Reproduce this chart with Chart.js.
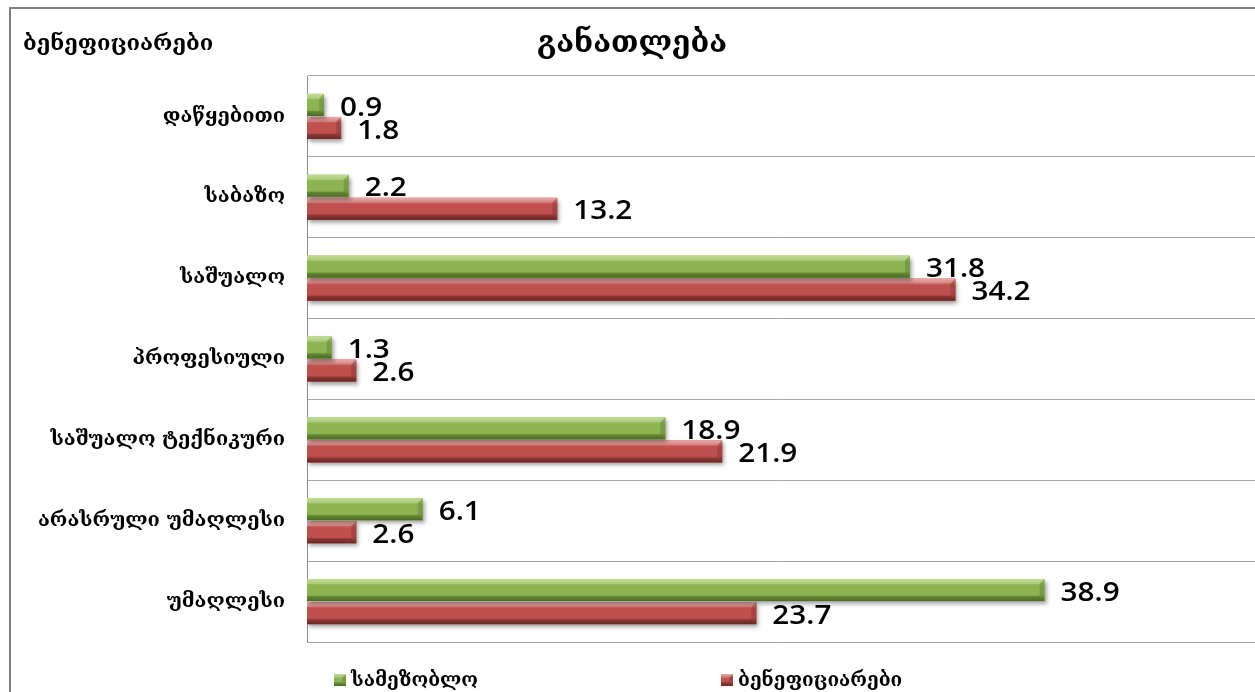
<!DOCTYPE html>
<html><head><meta charset="utf-8">
<script src="https://cdn.jsdelivr.net/npm/chart.js@4.4.0/dist/chart.umd.min.js"></script>
<style>html,body{margin:0;padding:0;background:#fff;overflow:hidden}canvas{display:block}</style>
</head><body>
<canvas id="c" width="1255" height="692"></canvas>
<script>
const categories = ['დაწყებითი', 'საბაზო', 'საშუალო', 'პროფესიული', 'საშუალო ტექნიკური', 'არასრული უმაღლესი', 'უმაღლესი'];
const seriesNames = ['სამეზობლო', 'ბენეფიციარები'];
const neighbourValues = [0.9, 2.2, 31.8, 1.3, 18.9, 6.1, 38.9];
const beneficiaryValues = [1.8, 13.2, 34.2, 2.6, 21.9, 2.6, 23.7];
const chartTitle = 'განათლება';
const cornerLabel = 'ბენეფიციარები';

const GEO = "'DejaVu Serif', 'DejaVu Sans', serif";
const NUM = "'Open Sans', 'Lato', sans-serif";
const palettes = [
  {light: '#b4d67c', mid: '#8cb551', dark: '#5c8227'},
  {light: '#e39592', mid: '#c0504d', dark: '#842e2b'}
];

function shadeRect(ctx, left, top, right, bot, p) {
  const g = ctx.createLinearGradient(0, top, 0, bot);
  g.addColorStop(0, p.light);
  g.addColorStop(0.3, p.mid);
  g.addColorStop(0.7, p.mid);
  g.addColorStop(1, p.dark);
  ctx.fillStyle = g;
  ctx.fillRect(left, top, right - left, bot - top);
  const b = Math.min(5, (bot - top) / 3, (right - left) / 2);
  ctx.fillStyle = 'rgba(255,255,255,0.2)';
  ctx.beginPath(); ctx.moveTo(left, top); ctx.lineTo(right, top); ctx.lineTo(right - b, top + b); ctx.lineTo(left, top + b); ctx.closePath(); ctx.fill();
  ctx.fillStyle = 'rgba(0,0,0,0.18)';
  ctx.beginPath(); ctx.moveTo(left, bot); ctx.lineTo(right, bot); ctx.lineTo(right - b, bot - b); ctx.lineTo(left, bot - b); ctx.closePath(); ctx.fill();
  ctx.fillStyle = 'rgba(0,0,0,0.14)';
  ctx.beginPath(); ctx.moveTo(right, top); ctx.lineTo(right, bot); ctx.lineTo(right - b, bot - b); ctx.lineTo(right - b, top + b); ctx.closePath(); ctx.fill();
}

const framePlugin = {
  id: 'frame',
  beforeDraw(chart) {
    const ctx = chart.ctx;
    ctx.save();
    ctx.fillStyle = '#fff';
    ctx.fillRect(0, 0, chart.width, chart.height);
    ctx.strokeStyle = '#808080';
    ctx.lineWidth = 2;
    ctx.beginPath();
    ctx.moveTo(10, 692); ctx.lineTo(10, 8); ctx.lineTo(1255, 8);
    ctx.stroke();
    ctx.restore();
  },
  afterDraw(chart) {
    const ctx = chart.ctx;
    ctx.save();
    ctx.fillStyle = '#000';
    ctx.textBaseline = 'middle';
    ctx.font = 'bold 22px ' + GEO;
    ctx.textAlign = 'left';
    ctx.fillText(cornerLabel, 23, 44);
    ctx.font = 'bold 30px ' + GEO;
    ctx.textAlign = 'center';
    ctx.fillText(chartTitle, 632, 44);
    // legend
    const legendX = [334, 721];
    ctx.font = 'bold 19px ' + GEO;
    ctx.textAlign = 'left';
    chart.data.datasets.forEach((ds, i) => {
      const x = legendX[i], y = 674;
      shadeRect(ctx, x, y, x + 12, y + 12, palettes[i]);
      ctx.fillStyle = '#000';
      ctx.fillText(ds.label, x + 17, y + 7);
    });
    ctx.restore();
  }
};

const barStylePlugin = {
  id: 'barStyle',
  beforeDatasetDraw(chart) {
    const ctx = chart.ctx;
    ctx.save();
    ctx.shadowColor = 'rgba(0,0,0,0.35)';
    ctx.shadowBlur = 4;
    ctx.shadowOffsetX = 2;
    ctx.shadowOffsetY = 3;
  },
  afterDatasetDraw(chart, args) {
    const ctx = chart.ctx;
    ctx.restore();
    const meta = args.meta;
    const p = palettes[args.index];
    ctx.save();
    meta.data.forEach(el => {
      const pr = el.getProps(['x', 'y', 'base', 'height'], true);
      const left = Math.min(pr.base, pr.x), right = Math.max(pr.base, pr.x);
      shadeRect(ctx, left, pr.y - pr.height / 2, right, pr.y + pr.height / 2, p);
    });
    ctx.restore();
  },
  afterDatasetsDraw(chart) {
    const ctx = chart.ctx;
    ctx.save();
    ctx.fillStyle = '#000';
    ctx.font = '600 27px ' + NUM;
    ctx.textAlign = 'left';
    ctx.textBaseline = 'middle';
    chart.data.datasets.forEach((ds, i) => {
      const meta = chart.getDatasetMeta(i);
      meta.data.forEach((el, j) => {
        const pr = el.getProps(['x', 'y'], true);
        ctx.save();
        ctx.translate(pr.x + 16, pr.y + 3);
        ctx.scale(1.1, 1);
        ctx.fillText(ds.data[j].toFixed(1), 0, 0);
        ctx.restore();
      });
    });
    ctx.restore();
  }
};

new Chart(document.getElementById('c'), {
  type: 'bar',
  data: {
    labels: categories,
    datasets: [
      {label: seriesNames[0], data: neighbourValues, backgroundColor: palettes[0].mid},
      {label: seriesNames[1], data: beneficiaryValues, backgroundColor: palettes[1].mid}
    ]
  },
  options: {
    indexAxis: 'y',
    responsive: false,
    animation: false,
    barPercentage: 0.96,
    categoryPercentage: 0.57,
    layout: {padding: {top: 76, bottom: 50, left: 0, right: 0}},
    plugins: {legend: {display: false}, title: {display: false}, tooltip: {enabled: false}},
    scales: {
      x: {type: 'linear', min: 0, max: 50, display: false},
      y: {
        grid: {color: '#a6a6a6', lineWidth: 1, drawTicks: false, offset: true},
        border: {display: true, color: '#8c8c8c', width: 1},
        ticks: {color: '#000', padding: 22, font: {family: GEO, size: 20, weight: 'bold'}},
        afterFit(s) { s.width = 307; }
      }
    }
  },
  plugins: [framePlugin, barStylePlugin]
});
</script>
</body></html>
